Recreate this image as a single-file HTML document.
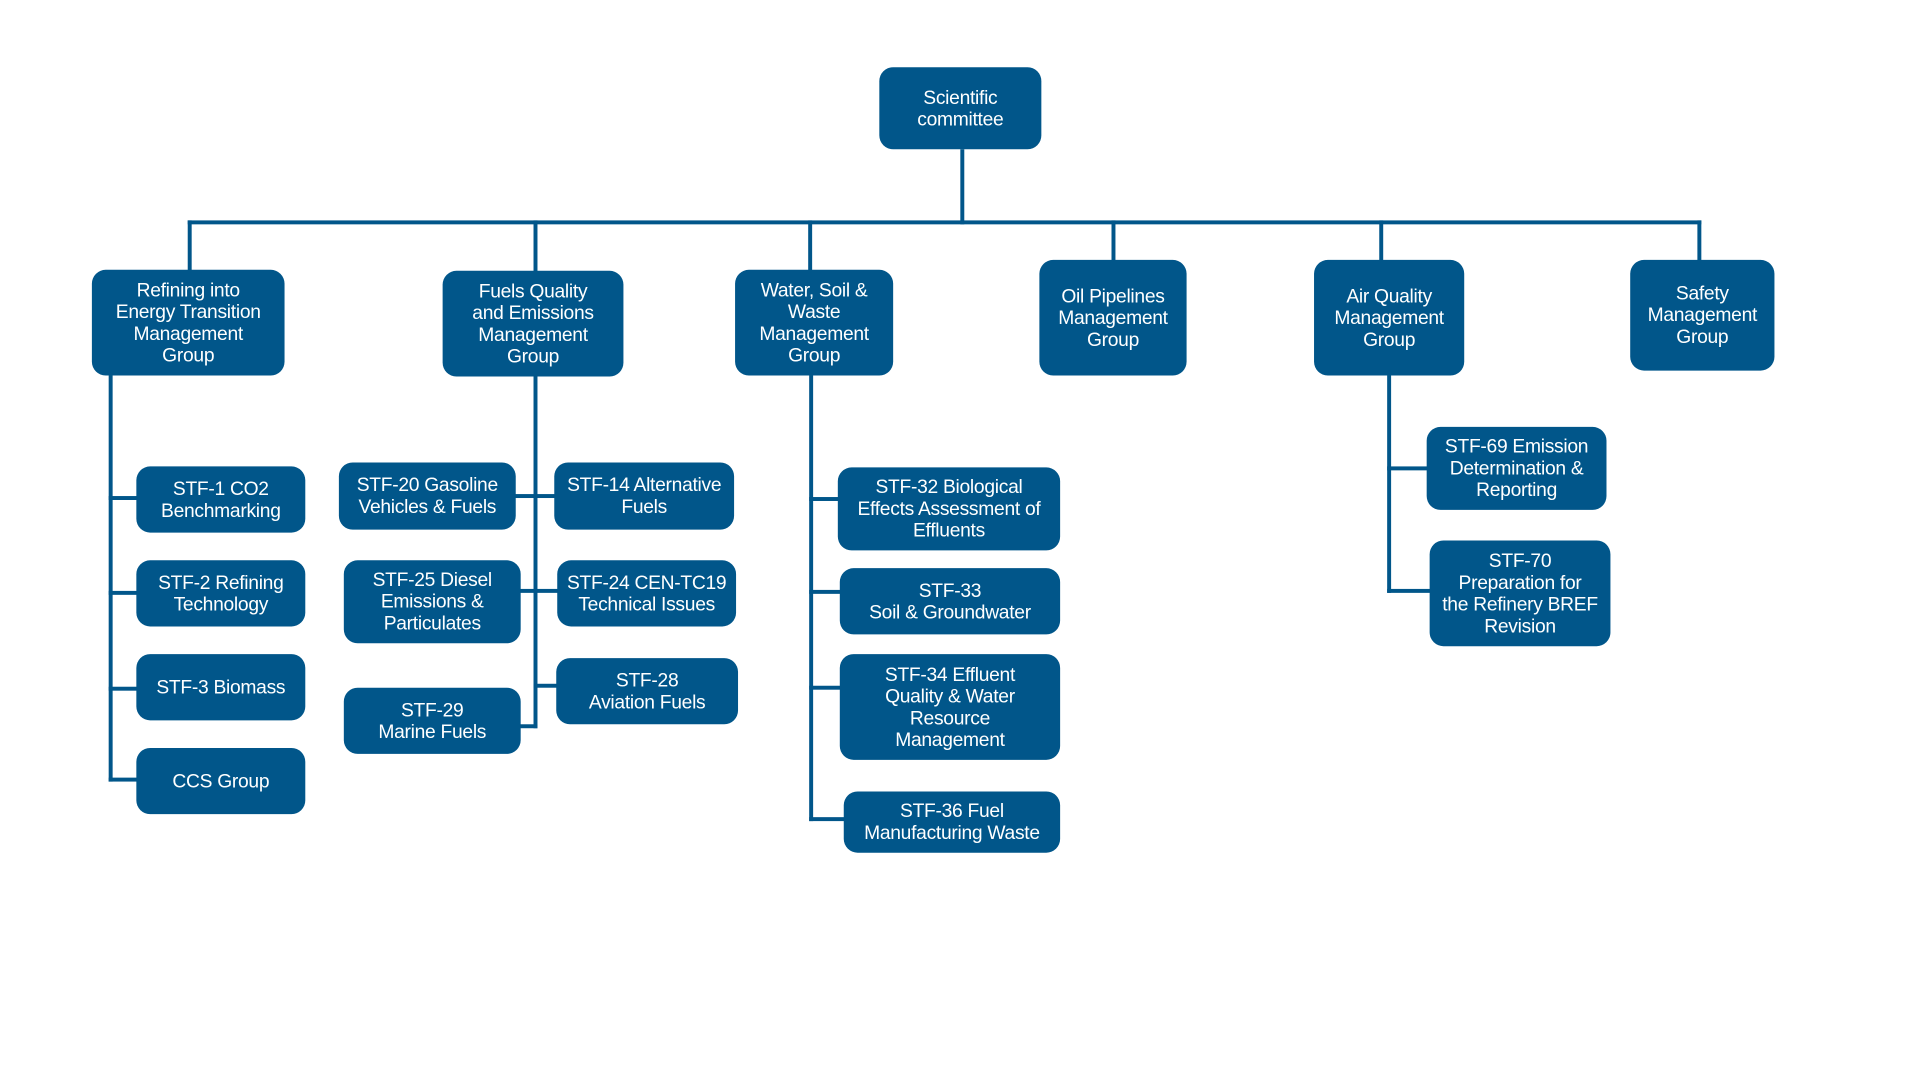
<!DOCTYPE html>
<html><head><meta charset="utf-8"><style>
html,body{margin:0;padding:0;background:#fff;}
body{width:1920px;height:1080px;position:relative;overflow:hidden;font-family:"Liberation Sans",sans-serif;}
#w{position:absolute;left:0;top:0;width:1920px;height:1080px;transform-origin:0 0;transform:translate(0px,6px) scale(0.988);}
.b{position:absolute;background:#01568a;color:#fff;border-radius:14px;display:flex;align-items:center;justify-content:center;text-align:center;font-size:19.5px;line-height:22px;box-sizing:border-box;padding:0 4px;letter-spacing:-0.3px;}
.h,.v{position:absolute;background:#01568a;}
.h{height:4px;}
.v{width:4px;}
</style></head><body><div id="w">
<div class="b" style="left:890px;top:62px;width:164px;height:83px;">Scientific<br>committee</div>
<div class="v" style="left:972px;top:145px;height:76px;"></div>
<div class="h" style="left:190px;top:217px;width:1532px;"></div>
<div class="v" style="left:190px;top:217px;height:56px;"></div>
<div class="v" style="left:540px;top:217px;height:56px;"></div>
<div class="v" style="left:818px;top:217px;height:56px;"></div>
<div class="v" style="left:1125px;top:217px;height:45px;"></div>
<div class="v" style="left:1396px;top:217px;height:45px;"></div>
<div class="v" style="left:1718px;top:217px;height:45px;"></div>

<div class="b" style="left:93px;top:267px;width:195px;height:107px;">Refining into<br>Energy Transition<br>Management<br>Group</div>
<div class="b" style="left:448px;top:268px;width:183px;height:107px;">Fuels Quality<br>and Emissions<br>Management<br>Group</div>
<div class="b" style="left:744px;top:267px;width:160px;height:107px;">Water, Soil &amp;<br>Waste<br>Management<br>Group</div>
<div class="b" style="left:1052px;top:257px;width:149px;height:117px;">Oil Pipelines<br>Management<br>Group</div>
<div class="b" style="left:1330px;top:257px;width:152px;height:117px;">Air Quality<br>Management<br>Group</div>
<div class="b" style="left:1650px;top:257px;width:146px;height:112px;">Safety<br>Management<br>Group</div>

<div class="v" style="left:110px;top:374px;height:411px;"></div>
<div class="h" style="left:110px;top:496px;width:30px;"></div>
<div class="h" style="left:110px;top:592px;width:30px;"></div>
<div class="h" style="left:110px;top:689px;width:30px;"></div>
<div class="h" style="left:110px;top:781px;width:30px;"></div>
<div class="b" style="left:138px;top:466px;width:171px;height:67px;">STF-1 CO2<br>Benchmarking</div>
<div class="b" style="left:138px;top:561px;width:171px;height:67px;">STF-2 Refining<br>Technology</div>
<div class="b" style="left:138px;top:656px;width:171px;height:67px;">STF-3 Biomass</div>
<div class="b" style="left:138px;top:751px;width:171px;height:67px;">CCS Group</div>

<div class="v" style="left:540px;top:375px;height:356px;"></div>
<div class="h" style="left:520px;top:494px;width:44px;"></div>
<div class="h" style="left:524px;top:590px;width:44px;"></div>
<div class="h" style="left:540px;top:686px;width:26px;"></div>
<div class="h" style="left:524px;top:727px;width:20px;"></div>
<div class="b" style="left:343px;top:462px;width:179px;height:68px;">STF-20 Gasoline<br>Vehicles &amp; Fuels</div>
<div class="b" style="left:561px;top:462px;width:182px;height:68px;">STF-14 Alternative<br>Fuels</div>
<div class="b" style="left:348px;top:561px;width:179px;height:84px;">STF-25 Diesel<br>Emissions &amp;<br>Particulates</div>
<div class="b" style="left:564px;top:561px;width:181px;height:67px;">STF-24 CEN-TC19<br>Technical Issues</div>
<div class="b" style="left:563px;top:660px;width:184px;height:67px;">STF-28<br>Aviation Fuels</div>
<div class="b" style="left:348px;top:690px;width:179px;height:67px;">STF-29<br>Marine Fuels</div>

<div class="v" style="left:819px;top:374px;height:451px;"></div>
<div class="h" style="left:819px;top:497px;width:32px;"></div>
<div class="h" style="left:819px;top:591px;width:32px;"></div>
<div class="h" style="left:819px;top:688px;width:32px;"></div>
<div class="h" style="left:819px;top:821px;width:36px;"></div>
<div class="b" style="left:848px;top:467px;width:225px;height:84px;">STF-32 Biological<br>Effects Assessment of<br>Effluents</div>
<div class="b" style="left:850px;top:569px;width:223px;height:67px;">STF-33<br>Soil &amp; Groundwater</div>
<div class="b" style="left:850px;top:656px;width:223px;height:107px;">STF-34 Effluent<br>Quality &amp; Water<br>Resource<br>Management</div>
<div class="b" style="left:854px;top:795px;width:219px;height:62px;">STF-36 Fuel<br>Manufacturing Waste</div>

<div class="v" style="left:1404px;top:374px;height:220px;"></div>
<div class="h" style="left:1404px;top:466px;width:42px;"></div>
<div class="h" style="left:1404px;top:590px;width:45px;"></div>
<div class="b" style="left:1444px;top:426px;width:182px;height:84px;">STF-69 Emission<br>Determination &amp;<br>Reporting</div>
<div class="b" style="left:1447px;top:541px;width:183px;height:107px;">STF-70<br>Preparation for<br>the Refinery BREF<br>Revision</div>
</div></body></html>
